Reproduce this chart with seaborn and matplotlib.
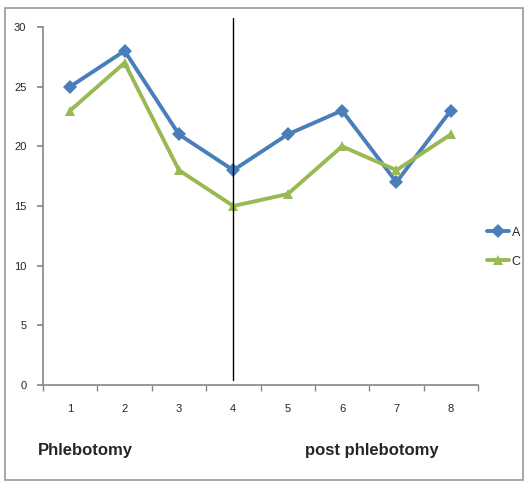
import matplotlib
matplotlib.use("Agg")
import matplotlib.pyplot as plt
import seaborn as sns
import pandas as pd
from matplotlib.patches import Rectangle

categories = [1, 2, 3, 4, 5, 6, 7, 8]
series_a = [25, 28, 21, 18, 21, 23, 17, 23]
series_c = [23, 27, 18, 15, 16, 20, 18, 21]
y_ticks = [0, 5, 10, 15, 20, 25, 30]
label_left = "Phlebotomy"
label_right = "post phlebotomy"

sns.set_theme(style="white")
plt.rcParams['font.family'] = ['Liberation Sans Narrow', 'Liberation Sans', 'DejaVu Sans']

df = pd.DataFrame({
    "x": categories * 2,
    "y": series_a + series_c,
    "s": ["A"] * len(categories) + ["C"] * len(categories),
})

W, H = 527, 483
fig = plt.figure(figsize=(W / 100, H / 100), dpi=100)
ax = fig.add_axes([43 / W, 1 - 385 / H, (478 - 43) / W, (385 - 27) / H])

palette = {"A": "#4A7EBB", "C": "#98B954"}
sns.lineplot(data=df, x="x", y="y", hue="s", style="s", palette=palette,
             markers={"A": "D", "C": "^"}, dashes=False, linewidth=2.8,
             markersize=7, markeredgewidth=0, ax=ax, legend=True)

ax.set_xlim(0.5, 8.5)
ax.set_ylim(0, 30)
ax.set_yticks(y_ticks)
ax.set_yticklabels([str(v) for v in y_ticks], fontsize=8)
ax.set_xticks(categories)
ax.set_xticklabels([str(c) for c in categories], fontsize=8)
ax.set_xticks([c - 0.5 for c in categories] + [8.5], minor=True)
ax.tick_params(axis="x", which="major", length=0, pad=14)
ax.tick_params(axis="x", which="minor", length=4, color="#868686", direction="out", bottom=True)
ax.tick_params(axis="y", length=4, color="#868686", direction="out", left=True, pad=8)
ax.set_xlabel("")
ax.set_ylabel("")
for side in ["top", "right"]:
    ax.spines[side].set_visible(False)
for side in ["left", "bottom"]:
    ax.spines[side].set_color("#868686")
    ax.spines[side].set_linewidth(1.2)

# vertical separator at category 4
ax.axvline(4, ymin=0.015, ymax=1.025, color="black", linewidth=1, clip_on=False)

handles, labels = ax.get_legend_handles_labels()
leg = ax.legend(handles, labels, loc="center left", bbox_to_anchor=(1.0, 0.385),
                frameon=False, fontsize=9, handlelength=1.8, handletextpad=0.2,
                labelspacing=1.35, borderaxespad=0.3)

fig.text(38 / W, 1 - 450 / H, label_left, fontsize=12, fontweight="bold", va="center", ha="left")
fig.text(305 / W, 1 - 450 / H, label_right, fontsize=12, fontweight="bold", va="center", ha="left")

fig.patches.append(Rectangle((5 / W, 1 - 480 / H), (523 - 5) / W, (480 - 8) / H,
                             transform=fig.transFigure, fill=False,
                             edgecolor="#9a9a9a", linewidth=1.2))

fig.savefig("out.png", dpi=100)
